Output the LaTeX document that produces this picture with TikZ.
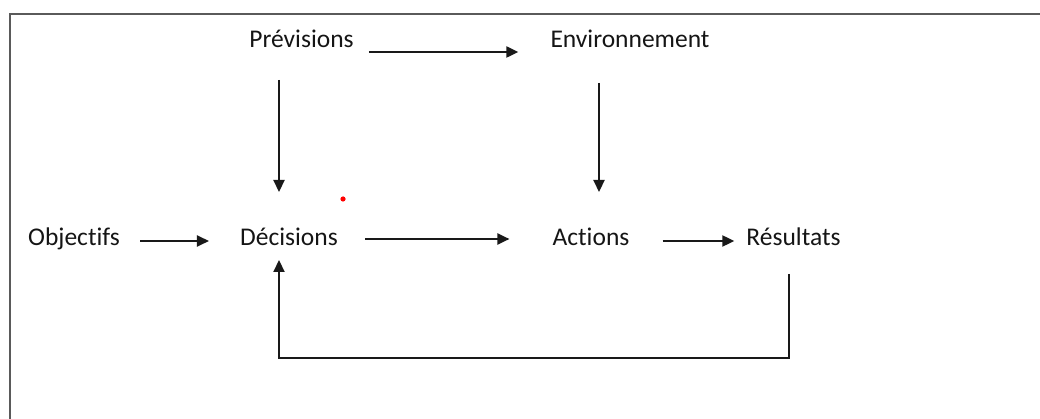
\documentclass[tikz,border=0pt]{standalone}
\usepackage{fontspec}
\setmainfont{Carlito}[RawFeature={-liga;-clig;-dlig}]
\usetikzlibrary{arrows.meta,calc}
\definecolor{txt}{HTML}{151515}
\definecolor{framec}{HTML}{5A5A5A}
\begin{document}
\begin{tikzpicture}[x=1pt,y=-1pt,
  lbl/.style={inner sep=0pt,anchor=base,text=txt,font=\fontsize{25.5}{30}\selectfont},
  arr/.style={line width=2.2pt,draw=black!90,-{Triangle[length=12pt,width=11pt]}}]
\useasboundingbox (0,0) rectangle (1040,419);
% frame
\draw[framec,line width=2.5pt] (10,419) -- (10,14) -- (1040,14);
% nodes
\node[lbl] (obj) at (74,246) {Objectifs};
\node[lbl] (dec) at (289,246) {Décisions};
\node[lbl] (act) at (591,246) {Actions};
\node[lbl] (res) at (793.5,246) {Résultats};
\node[lbl] (prev) at (301.5,48) {Prévisions};
\node[lbl] (env) at (630,48) {Environnement};
% red dot
\fill[red] (343,199) circle (2.6pt);
% connectors
\draw[arr] ($(obj.base east)+(20,-5)$) -- ($(dec.base west)+(-31,-5)$);
\draw[arr] ($(dec.base east)+(27,-7)$) -- ($(act.base west)+(-43,-7)$);
\draw[arr] ($(act.base east)+(33,-5)$) -- ($(res.base west)+(-12,-5)$);
\draw[arr] ($(prev.base east)+(15,4)$) -- ($(env.base west)+(-32,4)$);
\draw[arr] ($(prev.base)+(-22.5,32)$) -- ($(dec.base)+(-10,-54)$);
\draw[arr] ($(env.base)+(-31,35)$) -- ($(act.base)+(8,-54)$);
\draw[arr] ($(res.base)+(-4.5,28)$) -- ++(0,84) -| ($(dec.base)+(-10,14)$);
\end{tikzpicture}
\end{document}
